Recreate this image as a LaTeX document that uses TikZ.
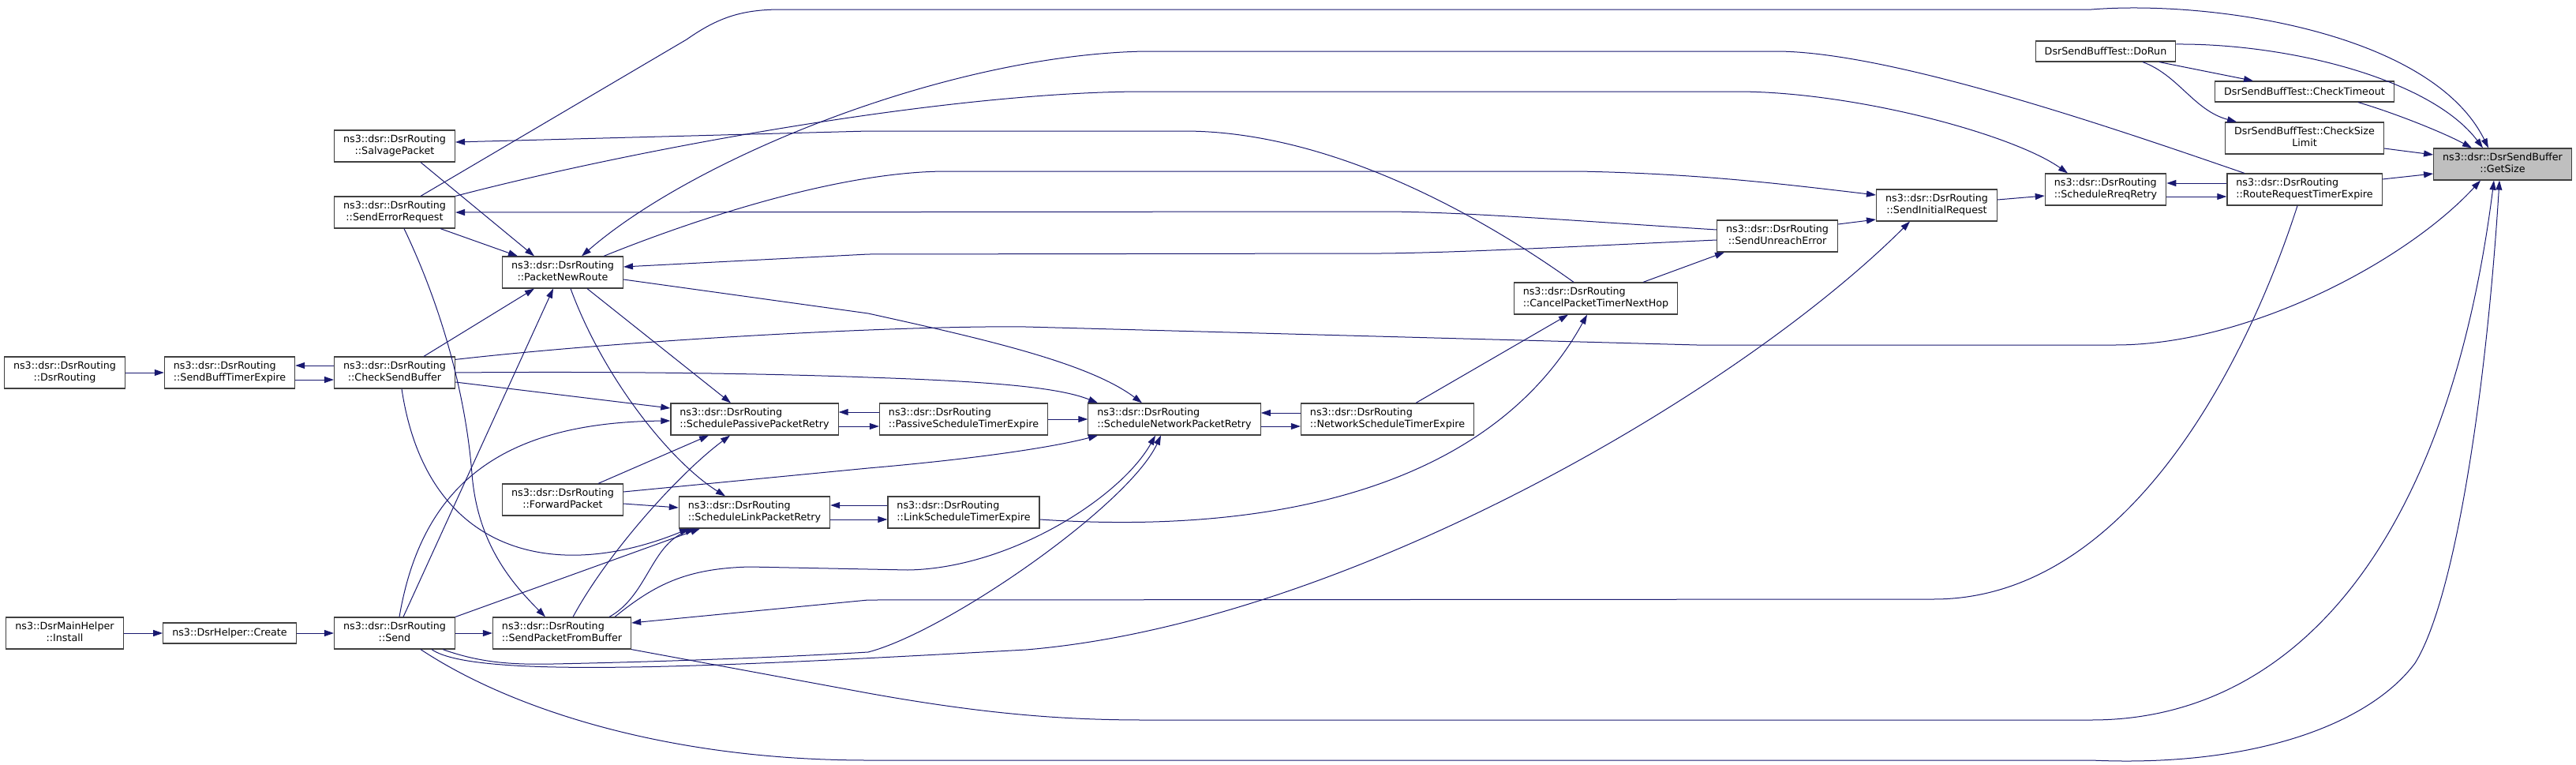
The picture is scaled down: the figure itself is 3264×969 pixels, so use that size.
\documentclass[tikz,border=0pt]{standalone}
\usepackage{fontspec}
\setmainfont{DejaVu Sans}
\usetikzlibrary{arrows.meta}
\definecolor{callBlue}{HTML}{191970}
\definecolor{boxLine}{HTML}{404040}
\definecolor{rootFill}{HTML}{BFBFBF}
\newcommand{\fnsize}{\fontsize{12.7}{15}\selectfont}
% first line flush left, second line centred (as in the doxygen labels)
\newcommand{\twoline}[2]{\begin{tabular}{@{}c@{}}\multicolumn{1}{@{}l@{}}{#1}\\#2\end{tabular}}

\begin{document}
\begin{tikzpicture}[
    x=1pt, y=-1pt,
    >={Triangle[length=12pt,width=8pt]},
    func/.style={draw=boxLine, line width=1.2pt, fill=white, font=\fnsize,
                 inner xsep=11.5pt, inner ysep=2pt, minimum height=40pt},
    func1/.style={func, minimum height=26pt},
    root/.style={func, fill=rootFill},
    call/.style={->, callBlue, line width=1pt},
]
\useasboundingbox (0,0) rectangle (3264,969);

%-----------------------------------------------------------------------
% functions (left to right)
\node[func] (dr)   at (82,472)  {\twoline{ns3::dsr::DsrRouting}{::DsrRouting}};
\node[func] (sbte) at (291,472) {\twoline{ns3::dsr::DsrRouting}{::SendBuffTimerExpire}};
\node[func] (inst) at (82,802)  {\twoline{ns3::DsrMainHelper}{::Install}};
\node[func1] (cr)  at (291,802) {ns3::DsrHelper::Create};

\node[func] (sp)   at (500,185) {\twoline{ns3::dsr::DsrRouting}{::SalvagePacket}};
\node[func] (ser)  at (500,269) {\twoline{ns3::dsr::DsrRouting}{::SendErrorRequest}};
\node[func] (csb)  at (500,472) {\twoline{ns3::dsr::DsrRouting}{::CheckSendBuffer}};
\node[func] (snd)  at (500,802) {\twoline{ns3::dsr::DsrRouting}{::Send}};

\node[func] (pnr)  at (713,345) {\twoline{ns3::dsr::DsrRouting}{::PacketNewRoute}};
\node[func] (fp)   at (713,633) {\twoline{ns3::dsr::DsrRouting}{::ForwardPacket}};
\node[func] (spfb) at (712,802) {\twoline{ns3::dsr::DsrRouting}{::SendPacketFromBuffer}};

\node[func] (sppr) at (956,531) {\twoline{ns3::dsr::DsrRouting}{::SchedulePassivePacketRetry}};
\node[func] (slpr) at (956,649) {\twoline{ns3::dsr::DsrRouting}{::ScheduleLinkPacketRetry}};
\node[func] (pste) at (1221,531) {\twoline{ns3::dsr::DsrRouting}{::PassiveScheduleTimerExpire}};
\node[func] (lste) at (1221,649) {\twoline{ns3::dsr::DsrRouting}{::LinkScheduleTimerExpire}};
\node[func] (snpr) at (1488,531) {\twoline{ns3::dsr::DsrRouting}{::ScheduleNetworkPacketRetry}};
\node[func] (nste) at (1758,531) {\twoline{ns3::dsr::DsrRouting}{::NetworkScheduleTimerExpire}};
\node[func] (cptnh) at (2022,378) {\twoline{ns3::dsr::DsrRouting}{::CancelPacketTimerNextHop}};
\node[func] (sue)  at (2252,299) {\twoline{ns3::dsr::DsrRouting}{::SendUnreachError}};
\node[func] (sir)  at (2454,260) {\twoline{ns3::dsr::DsrRouting}{::SendInitialRequest}};
\node[func] (srr)  at (2668,240) {\twoline{ns3::dsr::DsrRouting}{::ScheduleRreqRetry}};
\node[func] (rrte) at (2920,240) {\twoline{ns3::dsr::DsrRouting}{::RouteRequestTimerExpire}};

\node[func1] (dorun) at (2668,65) {DsrSendBuffTest::DoRun};
\node[func1] (cto)   at (2920,116) {DsrSendBuffTest::CheckTimeout};
\node[func] (csl)    at (2920,175) {\twoline{DsrSendBuffTest::CheckSize}{Limit}};
\node[root] (gs)     at (3171,208) {\twoline{ns3::dsr::DsrSendBuffer}{::GetSize}};

%-----------------------------------------------------------------------
% short calls on the left
\draw[call] (dr) -- (sbte);
\draw[call] ([yshift=9pt]csb.west) -- ([yshift=9pt]sbte.east);
\draw[call] ([yshift=-9pt]sbte.east) -- ([yshift=-9pt]csb.west);
\draw[call] (inst) -- (cr);
\draw[call] (cr) -- (snd);
\draw[call] (snd) -- (spfb);

% into PacketNewRoute
\draw[call] ([xshift=33pt]sp.south) -- ([xshift=-36pt]pnr.north);
\draw[call] ([xshift=58pt]ser.south) -- ([xshift=-57pt]pnr.north);
\draw[call] ([xshift=37pt]csb.north) -- ([xshift=-36pt]pnr.south);
\draw[call] ([xshift=11pt]snd.north) -- ([xshift=-12pt]pnr.south);

% into the passive / link retries
\draw[call] ([xshift=6pt]snd.north) .. controls (535,610) and (640,535) .. ([yshift=-2pt]sppr.west);
\draw[call] ([xshift=31pt]pnr.south) -- ([xshift=-30pt]sppr.north);
\draw[call] ([xshift=10pt]pnr.south) .. controls (765,480) and (850,585) .. ([xshift=-37pt]slpr.north);
\draw[call] ([yshift=-12pt]csb.east) -- ([yshift=14pt]sppr.west);
\draw[call] ([xshift=45pt]fp.north) -- ([xshift=-58pt]sppr.south);
\draw[call] ([xshift=14pt]spfb.north) .. controls (770,700) and (860,600) .. ([xshift=-31pt]sppr.south);
\draw[call] ([yshift=-5pt]fp.east) -- ([yshift=6pt]slpr.west);
\draw[call] ([xshift=9pt]csb.south) .. controls (540,700) and (700,740) .. ([xshift=-83pt]slpr.south);
\draw[call] (snd.north east) -- ([xshift=-69pt]slpr.south);
\draw[call] ([xshift=60pt]spfb.north) .. controls (820,755) and (825,690) .. ([xshift=-76pt]slpr.south);
\draw[call] ([yshift=9pt]pste.west) -- ([yshift=9pt]sppr.east);
\draw[call] ([yshift=-9pt]sppr.east) -- ([yshift=-9pt]pste.west);
\draw[call] ([yshift=9pt]lste.west) -- ([yshift=9pt]slpr.east);
\draw[call] ([yshift=-9pt]slpr.east) -- ([yshift=-9pt]lste.west);

% into ScheduleNetworkPacketRetry
\draw[call] (pste) -- (snpr);
\draw[call] ([xshift=67pt]spfb.north) .. controls (830,740) and (870,720) .. (950,718)
    -- (1150,722) .. controls (1280,720) and (1420,630) .. ([xshift=-24pt]snpr.south);
\draw[call] ([xshift=61pt]snd.south) .. controls (610,840) and (650,842) .. (701,841)
    .. controls (850,838) and (1000,832) .. (1100,826)
    .. controls (1200,800) and (1430,640) .. ([xshift=-17pt]snpr.south);
\draw[call] ([yshift=-9pt]pnr.east) -- (1100,397) .. controls (1250,430) and (1380,460) .. ([xshift=-41pt]snpr.north);
\draw[call] (csb.east) .. controls (800,470) and (1000,474) .. (1100,478)
    .. controls (1250,483) and (1340,490) .. ([xshift=-97pt]snpr.north);
\draw[call] ([yshift=10pt]fp.east) -- (1100,593) .. controls (1250,580) and (1340,565) .. ([xshift=-97pt]snpr.south);
\draw[call] ([yshift=8pt]nste.west) -- ([yshift=8pt]snpr.east);
\draw[call] ([yshift=-9pt]snpr.east) -- ([yshift=-9pt]nste.west);

% middle of the graph
\draw[call] ([xshift=12pt]ser.south) .. controls (560,390) and (590,500) .. (598,600)
    .. controls (605,690) and (650,740) .. ([xshift=-21pt]spfb.north);
\draw[call] ([xshift=36pt]nste.north) -- ([xshift=-35pt]cptnh.south);
\draw[call] ([yshift=-9pt]lste.east) .. controls (1650,680) and (1900,600) .. ([xshift=-11pt]cptnh.south);
\draw[call] ([xshift=-28pt]cptnh.north) .. controls (1900,290) and (1700,166) .. (1500,166)
    -- (1100,166) -- ([yshift=5pt]sp.east);
\draw[call] ([xshift=60pt]cptnh.north) -- ([xshift=-67pt]sue.south);
\draw[call] ([yshift=8pt]sue.west) .. controls (2000,280) and (1850,268) .. (1750,268) -- (ser.east);
\draw[call] ([yshift=-5pt]sue.west) .. controls (2000,312) and (1850,320) .. (1750,321)
    -- (1100,322) -- ([yshift=7pt]pnr.east);
\draw[call] ([yshift=15pt]sue.east) -- ([yshift=-18pt]sir.west);
\draw[call] ([xshift=52pt]pnr.north) .. controls (850,290) and (1050,217) .. (1200,217)
    -- (2000,217) .. controls (2150,220) and (2250,232) .. ([yshift=13pt]sir.west);
\draw[call] ([xshift=47pt]snd.south) .. controls (600,860) and (900,845) .. (1300,823)
    .. controls (1700,790) and (2200,500) .. ([xshift=-34pt]sir.south);

% route request side
\draw[call] ([yshift=7pt]sir.east) -- ([yshift=-8pt]srr.west);
\draw[call] ([yshift=8pt]rrte.west) -- ([yshift=8pt]srr.east);
\draw[call] ([yshift=-9pt]srr.east) -- ([yshift=-9pt]rrte.west);
\draw[call] (ser.north east) .. controls (800,190) and (1200,116) .. (1450,116)
    -- (2200,116) .. controls (2350,116) and (2550,170) .. ([xshift=-48pt]srr.north);
\draw[call] ([xshift=-76pt]rrte.north) .. controls (2700,170) and (2400,65) .. (2250,65)
    -- (1450,65) .. controls (1200,70) and (880,200) .. ([xshift=24pt]pnr.north);
\draw[call] ([xshift=-9pt]rrte.south) .. controls (2850,450) and (2700,759) .. (2450,759)
    -- (1100,760) -- ([yshift=13pt]spfb.east);

% test callers
\draw[call] ([xshift=68pt]dorun.south) -- ([xshift=-65pt]cto.north);
\draw[call] ([xshift=47pt]dorun.south) .. controls (2760,95) and (2780,140) .. ([xshift=-86pt]csl.north);

%-----------------------------------------------------------------------
% everything into GetSize
\draw[call] ([yshift=13pt]rrte.east) -- ([yshift=-12pt]gs.west);
\draw[call] ([yshift=-13pt]csl.east) -- ([yshift=12pt]gs.west);
\draw[call] ([xshift=68pt]cto.south) .. controls (3040,145) and (3100,170) .. ([xshift=-39pt]gs.north);
\draw[call] ([yshift=9pt]dorun.east) .. controls (2900,55) and (3080,100) .. ([xshift=-25pt]gs.north);
\draw[call] ([xshift=33pt]ser.north) -- (870,50) .. controls (910,22) and (940,12) .. (990,12)
    -- (2650,12) .. controls (2800,0) and (3080,40) .. ([xshift=-18pt]gs.north);
\draw[call] ([yshift=-4pt]csb.north east) .. controls (800,430) and (1150,412) .. (1300,414)
    -- (2150,437) -- (2680,437) .. controls (2850,437) and (3050,330) .. ([xshift=-28pt]gs.south);
\draw[call] (spfb.south east) -- (1100,878) .. controls (1250,905) and (1350,912) .. (1450,912)
    -- (2650,912) .. controls (2900,912) and (3100,700) .. ([xshift=-11pt]gs.south);
\draw[call] ([xshift=33pt]snd.south) .. controls (650,900) and (850,963) .. (1100,963)
    -- (2650,963) .. controls (2850,972) and (3000,920) .. (3060,840)
    .. controls (3110,760) and (3150,500) .. ([xshift=-4pt]gs.south);

\end{tikzpicture}
\end{document}
